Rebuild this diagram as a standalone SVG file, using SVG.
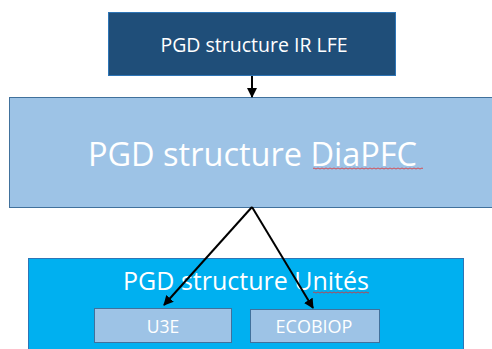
<svg xmlns="http://www.w3.org/2000/svg" width="492" height="349" viewBox="0 0 492 349">
<style>
text{font-family:"Open Sans","Liberation Sans",sans-serif;fill:#fff;text-anchor:middle}
.light{fill:#9DC3E6;stroke:#41719C;stroke-width:1}
.conn{stroke:#000;stroke-width:2;fill:none}
.squig{fill:none;stroke:#E03030;stroke-width:0.8}
</style>
<defs>
<marker id="ah" viewBox="0 0 10 10" refX="9" refY="5" markerWidth="5" markerHeight="5" orient="auto" markerUnits="strokeWidth">
<path d="M0,0 L10,5 L0,10 z" fill="#000"/>
</marker>
</defs>
<rect width="492" height="349" fill="#fff"/>
<g id="node-irlfe">
<rect x="108.5" y="12.5" width="287" height="63" fill="#1F4E79" stroke="#2E75B6" stroke-width="1"/>
<text x="254" y="52" font-size="19.5">PGD structure IR LFE</text>
</g>
<g id="node-diapfc">
<rect class="light" x="9.5" y="97.5" width="490" height="110"/>
<text x="252.5" y="166" font-size="32.5">PGD structure DiaPFC</text>
<path class="squig" d="M313,168.5 q1,-1 2,0 t2,0 t2,0 t2,0 t2,0 t2,0 t2,0 t2,0 t2,0 t2,0 t2,0 t2,0 t2,0 t2,0 t2,0 t2,0 t2,0 t2,0 t2,0 t2,0 t2,0 t2,0 t2,0 t2,0 t2,0 t2,0 t2,0 t2,0 t2,0 t2,0 t2,0 t2,0 t2,0 t2,0 t2,0 t2,0 t2,0 t2,0 t2,0 t2,0 t2,0 t2,0 t2,0 t2,0 t2,0 t2,0 t2,0 t2,0 t2,0 t2,0 t2,0 t2,0 t2,0 t2,0 t2,0"/>
</g>
<g id="node-unites">
<rect x="28.5" y="258.5" width="435" height="100" fill="#00B0F0" stroke="#2E75B6" stroke-width="1"/>
<text x="246" y="290" font-size="25">PGD structure Unités</text>
<path class="squig" d="M313,292.5 q1,-1 2,0 t2,0 t2,0 t2,0 t2,0 t2,0 t2,0 t2,0 t2,0 t2,0 t2,0 t2,0 t2,0 t2,0 t2,0 t2,0 t2,0 t2,0 t2,0 t2,0 t2,0 t2,0 t2,0 t2,0 t2,0 t2,0 t2,0 t2,0"/>
</g>
<g id="node-u3e">
<rect class="light" x="94.5" y="308.5" width="137" height="34"/>
<text x="163" y="333" font-size="17.5">U3E</text>
</g>
<g id="node-ecobiop">
<rect class="light" x="250.5" y="309.5" width="129" height="33"/>
<text x="314" y="333" font-size="18">ECOBIOP</text>
</g>
<g id="connectors">
<line class="conn" x1="252" y1="76" x2="252" y2="97" marker-end="url(#ah)"/>
<line class="conn" x1="252" y1="207" x2="164" y2="305" marker-end="url(#ah)"/>
<line class="conn" x1="252" y1="207" x2="313" y2="308" marker-end="url(#ah)"/>
</g>
</svg>
